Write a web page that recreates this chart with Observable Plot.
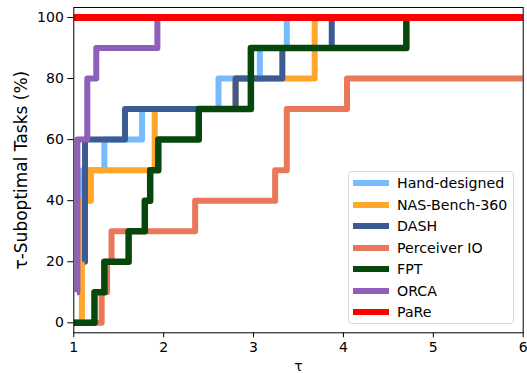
<!DOCTYPE html>
<html>
<head>
<meta charset="utf-8">
<script src="https://cdn.jsdelivr.net/npm/d3@7"></script>
<script src="https://cdn.jsdelivr.net/npm/@observablehq/plot@0.6"></script>
<style>
  html, body { margin: 0; padding: 0; background: white; }
  #wrap { position: relative; width: 527px; height: 373px; font-family: "DejaVu Sans", sans-serif; }
  #legend { position: absolute; left: 348px; top: 171px; width: 166px; height: 153px;
    border: 1px solid #d6d6d6; border-radius: 4px; background: rgba(255,255,255,0.85); box-sizing: border-box; }
  .row { position: absolute; left: 0; height: 20px; display: flex; align-items: center; font-size: 14.2px; color: #000; white-space: nowrap; }
  .sw { width: 36px; height: 6px; margin-left: 4px; margin-right: 8px; }
</style>
</head>
<body>
<div id="wrap"><div id="chart"></div><div id="legend"></div></div>
<script>
const seriesNames = ["Hand-designed", "NAS-Bench-360", "DASH", "Perceiver IO", "FPT", "ORCA", "PaRe"];
const seriesColors = ["#75bbfd", "#ffa62b", "#3b5b92", "#e9785a", "#06470c", "#8f5fb9", "#ff0000"];
const seriesWidths = [6, 6, 6, 6, 6.5, 6, 7];

const handTau = [1.05, 1.07, 1.10, 1.34, 1.76, 2.61, 3.07, 3.37, 6];
const handPct = [10, 20, 50, 60, 70, 80, 90, 100, 100];

const nasTau = [1.0, 1.09, 1.19, 1.90, 2.80, 3.68, 6];
const nasPct = [0, 40, 50, 70, 80, 100, 100];

const dashTau = [1.12, 1.125, 1.57, 2.80, 3.32, 3.87, 6];
const dashPct = [20, 60, 70, 80, 90, 100, 100];

const perceiverTau = [1.0, 1.31, 1.37, 1.42, 2.35, 3.24, 3.37, 4.04, 6];
const perceiverPct = [0, 10, 20, 30, 40, 50, 70, 80, 80];

const fptTau = [1.0, 1.23, 1.34, 1.61, 1.79, 1.85, 1.94, 2.39, 2.97, 4.70, 6];
const fptPct = [0, 10, 20, 30, 40, 50, 60, 70, 90, 100, 100];

const orcaTau = [1.035, 1.04, 1.15, 1.25, 1.93, 6];
const orcaPct = [10, 60, 80, 90, 100, 100];

const pareTau = [1.0, 6];
const parePct = [100, 100];

const allTau = [handTau, nasTau, dashTau, perceiverTau, fptTau, orcaTau, pareTau];
const allPct = [handPct, nasPct, dashPct, perceiverPct, fptPct, orcaPct, parePct];

const xTicks = [1, 2, 3, 4, 5, 6];
const yTicks = [0, 20, 40, 60, 80, 100];

const lineMarks = seriesNames.map((name, i) => {
  const rows = allTau[i].map((t, j) => ({series: name, tau: t, pct: allPct[i][j]}));
  return Plot.line(rows, {x: "tau", y: "pct", curve: "step-after", stroke: seriesColors[i],
    strokeWidth: seriesWidths[i], strokeLinejoin: "round", strokeLinecap: "butt", clip: true});
});

const chart = Plot.plot({
  width: 527, height: 373,
  marginLeft: 73.3, marginRight: 4.3, marginTop: 7, marginBottom: 40.7,
  style: {fontFamily: "DejaVu Sans", fontSize: "14px", background: "white", color: "black"},
  x: {domain: [1, 6]},
  y: {domain: [-3.27, 103.27]},
  marks: [
    ...lineMarks,
    Plot.frame({stroke: "black", strokeWidth: 1}),
    Plot.axisX({ticks: xTicks, tickFormat: d3.format("d"), tickSize: 5, tickPadding: 4, fontSize: 14, label: "τ", labelAnchor: "center", labelArrow: "none", labelOffset: 38}),
    Plot.axisY({ticks: yTicks, tickFormat: d3.format("d"), tickSize: 6, tickPadding: 4, fontSize: 14, label: null}),
    Plot.axisY({ticks: [], tickSize: 0, label: "τ-Suboptimal Tasks (%)", labelAnchor: "center", labelArrow: "none", labelOffset: 59, fontSize: 17})
  ]
});
document.getElementById("chart").appendChild(chart);

const legend = document.getElementById("legend");
const rowTops = [182.3, 203.6, 225, 246.6, 268.2, 289.5, 311].map(c => c - 171 - 10);
seriesNames.forEach((name, i) => {
  const row = document.createElement("div");
  row.className = "row";
  row.style.top = rowTops[i] + "px";
  const sw = document.createElement("div");
  sw.className = "sw";
  sw.style.background = seriesColors[i];
  const label = document.createElement("span");
  label.textContent = name;
  row.appendChild(sw);
  row.appendChild(label);
  legend.appendChild(row);
});
</script>
</body>
</html>
